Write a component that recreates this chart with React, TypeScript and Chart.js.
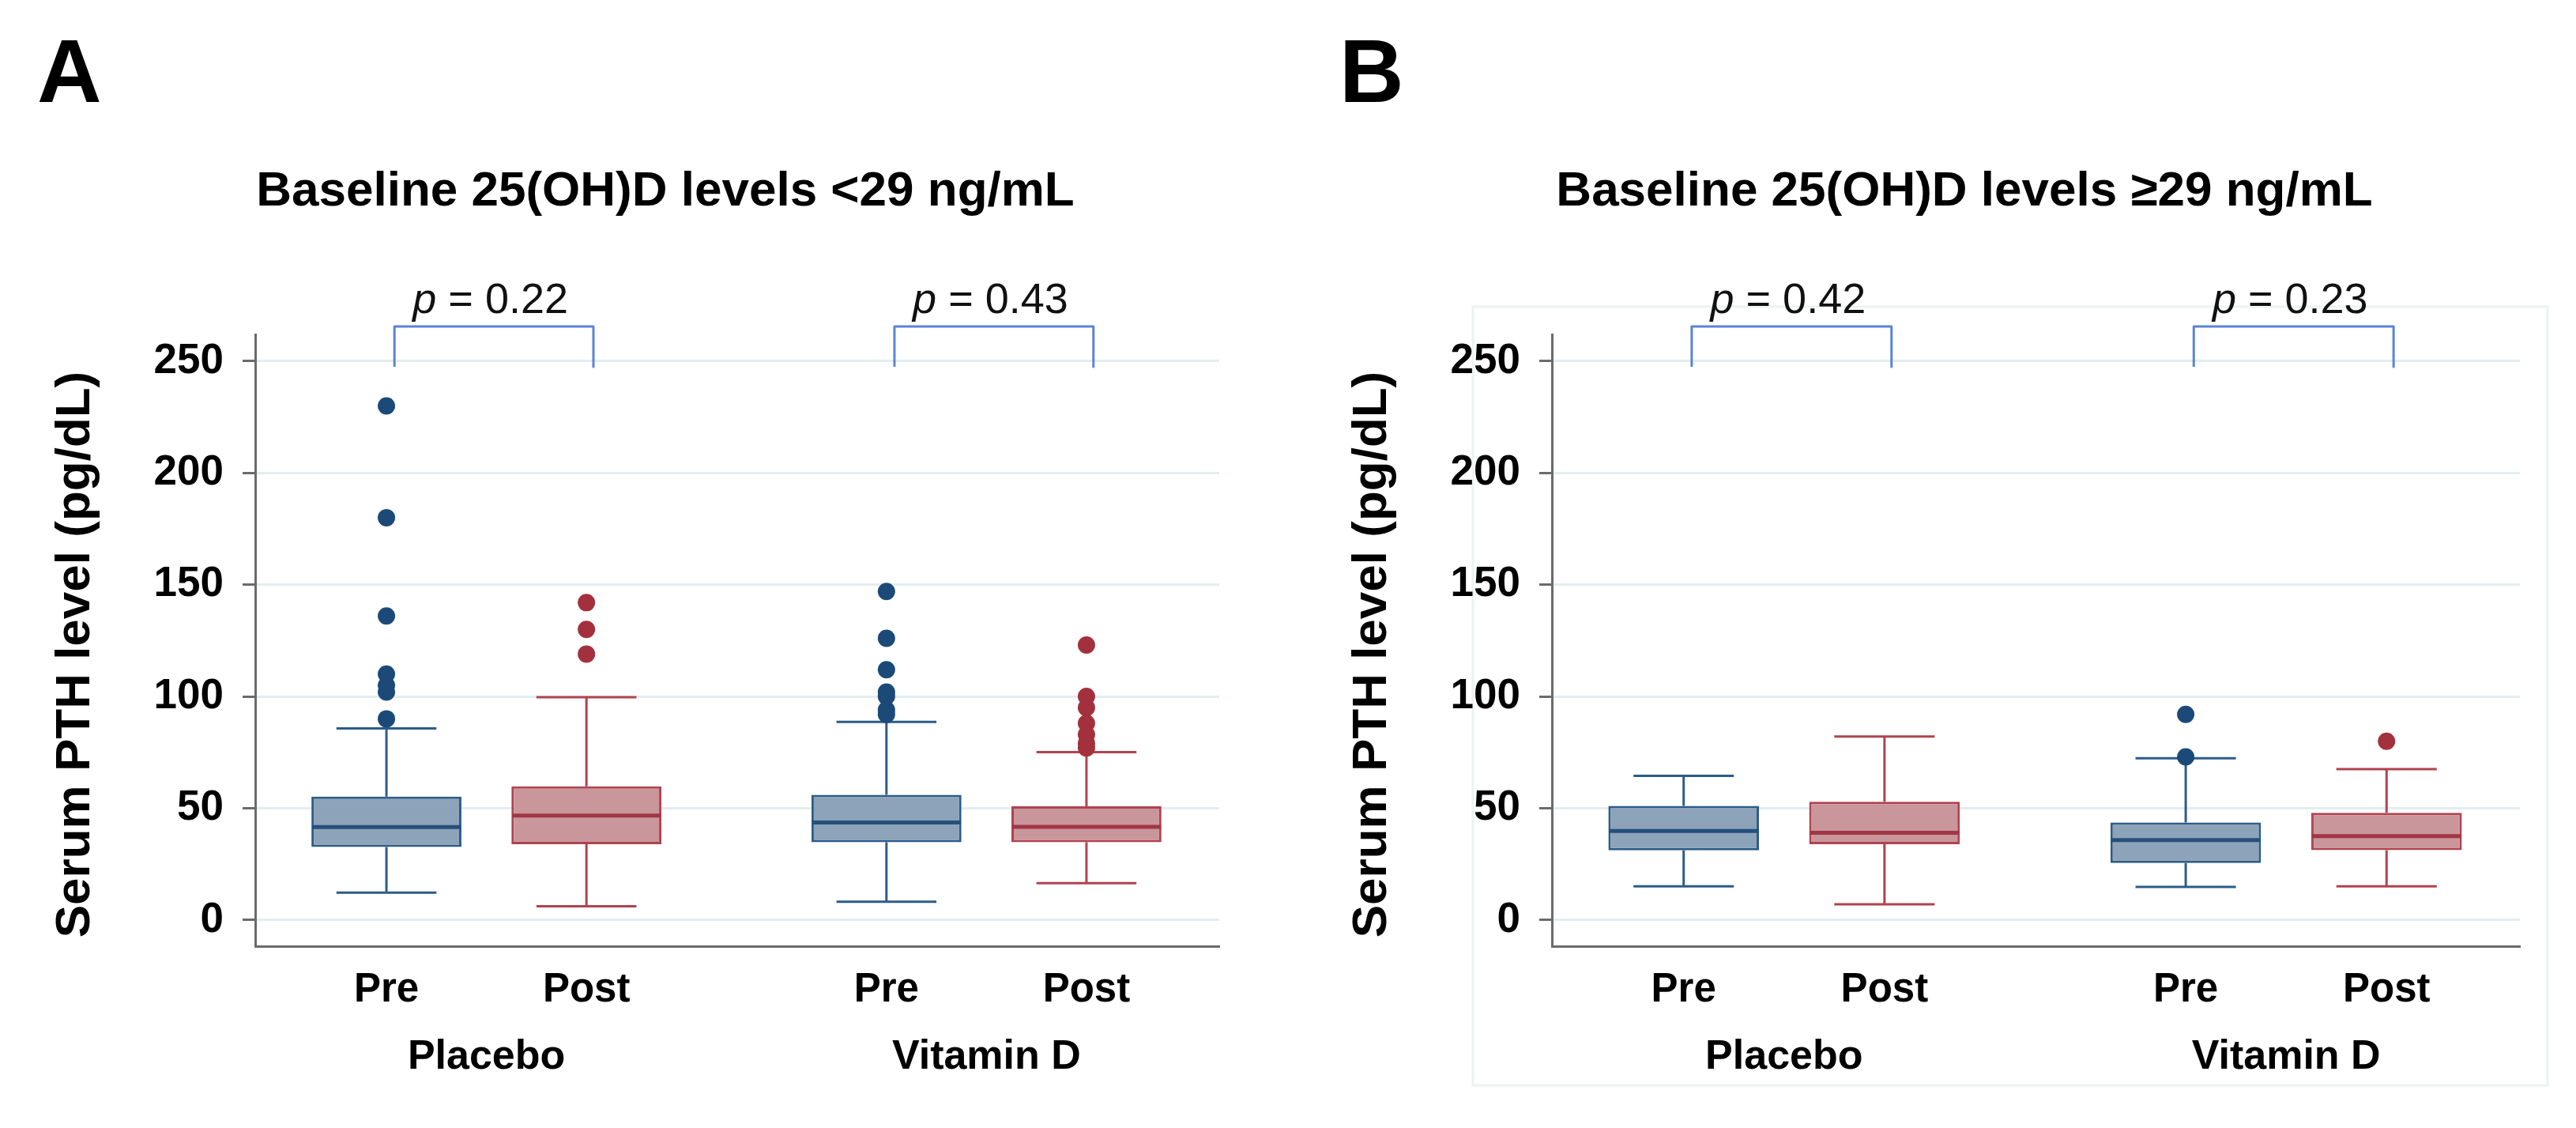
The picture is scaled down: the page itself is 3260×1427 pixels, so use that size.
import React, { useEffect, useRef } from "react";
import { Chart, registerables } from "chart.js";

Chart.register(...registerables);

// ---------- shared categories / ticks ----------
const timeCats = ["Pre", "Post", "Pre", "Post"];
const xPositions = [1, 2, 3.5, 4.5];
const groupCats = ["Placebo", "Vitamin D"];
const groupPositions = [1.5, 4];
const yTicks = [0, 50, 100, 150, 200, 250];
const bracketPairs = [[1, 2], [3.5, 4.5]];

// ---------- panel A: baseline < 29 ng/mL ----------
const aTitle = "Baseline 25(OH)D levels <29 ng/mL";
const aLow = [12.3, 6.2, 8.2, 16.5];
const aQ1 = [32.7, 33.9, 34.8, 34.8];
const aMed = [41.6, 46.7, 43.6, 41.7];
const aQ3 = [55.2, 59.8, 56.0, 50.9];
const aHigh = [85.7, 99.7, 88.6, 75.1];
const aOutPlaceboPre = [230, 180, 136, 110, 105, 102, 90];
const aOutPlaceboPost = [142, 130, 119];
const aOutVitDPre = [147, 126, 112, 102, 100, 94, 92];
const aOutVitDPost = [123, 100, 95, 88, 83, 79, 77];
const aPValues = ["0.22", "0.43"];

// ---------- panel B: baseline >= 29 ng/mL ----------
const bTitle = "Baseline 25(OH)D levels \u226529 ng/mL";
const bLow = [15.1, 7.0, 14.8, 15.1];
const bQ1 = [31.2, 33.9, 25.5, 31.3];
const bMed = [39.8, 39.0, 35.8, 37.5];
const bQ3 = [51.1, 52.9, 43.6, 48.0];
const bHigh = [64.5, 82.1, 72.4, 67.5];
const bOutPlaceboPre: number[] = [];
const bOutPlaceboPost: number[] = [];
const bOutVitDPre = [92, 73];
const bOutVitDPost = [80];
const bPValues = ["0.42", "0.23"];

// ---------- style ----------
const FONT = "'Liberation Sans', Arial, Helvetica, sans-serif";
const BLUE = { line: "#2d5c88", fill: "#8da3b9", med: "#25507c", dot: "#1c4a78" };
const RED = { line: "#b0434f", fill: "#c9969c", med: "#a23744", dot: "#a3313d" };
const BRACKET = "#5b84d6";
const GRID = "#e4edef";
const AXIS = "#6b6b6b";
const X_MIN = 0.344;
const X_MAX = 5.164;
const Y_MIN = -11.7;
const Y_MAX = 262;
const BRACKET_TOP = 265.5;
const BRACKET_BOTTOM = 247.5;
const P_BASE = 271.7;

type PanelProps = {
  letter: string;
  title: string;
  low: number[];
  q1: number[];
  med: number[];
  q3: number[];
  high: number[];
  outliers: number[][];
  pValues: string[];
  left: number;
  width: number;
  padRight: number;
  letterX: number;
  titleX: number;
  frame: boolean;
};

function buildDatasets(p: PanelProps) {
  const ds: any[] = [];
  const colorOf = (i: number) => (i % 2 === 0 ? BLUE : RED);

  // boxes (floating bars from Q1 to Q3)
  ds.push({
    type: "bar",
    xAxisID: "x",
    yAxisID: "y",
    data: xPositions.map((x, i) => ({ x, y: [p.q1[i], p.q3[i]] })),
    backgroundColor: xPositions.map((_, i) => colorOf(i).fill),
    borderColor: xPositions.map((_, i) => colorOf(i).line),
    borderWidth: 3,
    borderSkipped: false,
    categoryPercentage: 1,
    barPercentage: 0.75,
    order: 5,
  });

  xPositions.forEach((c, i) => {
    const col = colorOf(i);
    // whiskers and caps
    ds.push({
      type: "line",
      xAxisID: "x",
      yAxisID: "y",
      data: [
        { x: c, y: p.q3[i] },
        { x: c, y: p.high[i] },
        { x: c, y: null },
        { x: c - 0.25, y: p.high[i] },
        { x: c + 0.25, y: p.high[i] },
        { x: c + 0.25, y: null },
        { x: c, y: p.q1[i] },
        { x: c, y: p.low[i] },
        { x: c, y: null },
        { x: c - 0.25, y: p.low[i] },
        { x: c + 0.25, y: p.low[i] },
      ],
      borderColor: col.line,
      borderWidth: 3,
      pointRadius: 0,
      spanGaps: false,
      fill: false,
      tension: 0,
      order: 4,
    });
    // median
    ds.push({
      type: "line",
      xAxisID: "x",
      yAxisID: "y",
      data: [
        { x: c - 0.372, y: p.med[i] },
        { x: c + 0.372, y: p.med[i] },
      ],
      borderColor: col.med,
      borderWidth: 5,
      pointRadius: 0,
      fill: false,
      order: 3,
    });
    // outliers
    ds.push({
      type: "scatter",
      xAxisID: "x",
      yAxisID: "y",
      data: p.outliers[i].map((v) => ({ x: c, y: v })),
      backgroundColor: col.dot,
      borderColor: col.dot,
      borderWidth: 0,
      pointRadius: 11,
      pointStyle: "circle",
      order: 2,
    });
  });

  // significance brackets
  bracketPairs.forEach(([a, b]) => {
    ds.push({
      type: "line",
      xAxisID: "x",
      yAxisID: "y",
      data: [
        { x: a + 0.04, y: BRACKET_BOTTOM },
        { x: a + 0.04, y: BRACKET_TOP },
        { x: b + 0.035, y: BRACKET_TOP },
        { x: b + 0.035, y: BRACKET_BOTTOM },
      ],
      borderColor: BRACKET,
      borderWidth: 3,
      borderJoinStyle: "round",
      pointRadius: 0,
      fill: false,
      clip: false,
      order: 1,
    });
  });
  return ds;
}

function Panel(p: PanelProps) {
  const ref = useRef<HTMLCanvasElement | null>(null);

  useEffect(() => {
    const canvas = ref.current;
    if (!canvas) return;

    const decor = {
      id: "decor",
      beforeDraw(chart: any) {
        if (!p.frame) return;
        const { ctx, chartArea } = chart;
        ctx.save();
        ctx.strokeStyle = "#eef2f2";
        ctx.lineWidth = 3;
        ctx.strokeRect(
          chartArea.left - 100,
          chartArea.top - 35,
          chartArea.right - chartArea.left + 135,
          chartArea.bottom - chartArea.top + 211
        );
        ctx.restore();
      },
      afterDraw(chart: any) {
        const { ctx, chartArea, scales } = chart;
        ctx.save();
        ctx.fillStyle = "#000";
        // panel letter
        ctx.font = `bold 113px ${FONT}`;
        ctx.textAlign = "left";
        ctx.textBaseline = "alphabetic";
        ctx.fillText(p.letter, p.letterX, 129);
        // title
        ctx.font = `bold 62px ${FONT}`;
        ctx.textAlign = "center";
        ctx.fillText(p.title, p.titleX, 260);
        // y-axis title
        ctx.save();
        ctx.translate(chartArea.left - 210, 828);
        ctx.rotate(-Math.PI / 2);
        ctx.textAlign = "center";
        ctx.font = `bold 62px ${FONT}`;
        ctx.fillText("Serum PTH level (pg/dL)", 0, 0);
        ctx.restore();
        // p-values
        bracketPairs.forEach(([a, b], k) => {
          const cx = scales.x.getPixelForValue((a + b) / 2 + 0.02);
          const by = scales.y.getPixelForValue(P_BASE);
          const pPart = "p";
          const rest = " = " + p.pValues[k];
          ctx.font = `italic 54px ${FONT}`;
          const w1 = ctx.measureText(pPart).width;
          ctx.font = `54px ${FONT}`;
          const w2 = ctx.measureText(rest).width;
          const x0 = cx - (w1 + w2) / 2;
          ctx.textAlign = "left";
          ctx.fillStyle = "#111";
          ctx.font = `italic 54px ${FONT}`;
          ctx.fillText(pPart, x0, by);
          ctx.font = `54px ${FONT}`;
          ctx.fillText(rest, x0 + w1, by);
        });
        ctx.restore();
      },
    };

    const chart = new Chart(canvas, {
      type: "bar",
      data: { datasets: buildDatasets(p) },
      options: {
        responsive: false,
        maintainAspectRatio: false,
        animation: false,
        devicePixelRatio: 1,
        events: [],
        layout: { padding: { top: 423, left: 0, right: p.padRight, bottom: 60 } },
        plugins: {
          legend: { display: false },
          tooltip: { enabled: false },
          title: { display: false },
        },
        scales: {
          x: {
            type: "linear",
            position: "bottom",
            weight: 0,
            min: X_MIN,
            max: X_MAX,
            offset: false,
            afterBuildTicks: (s: any) => {
              s.ticks = xPositions.map((v) => ({ value: v }));
            },
            afterFit: (s: any) => {
              s.height = 85;
            },
            ticks: {
              autoSkip: false,
              maxRotation: 0,
              padding: 25,
              color: "#000",
              font: { family: FONT, size: 51, weight: "bold" },
              callback: (v: any) => timeCats[xPositions.indexOf(Number(v))],
            },
            grid: { display: false, drawTicks: false, offset: false },
            border: { display: true, color: AXIS, width: 3 },
          },
          x2: {
            type: "linear",
            position: "bottom",
            weight: 1,
            min: X_MIN,
            max: X_MAX,
            offset: false,
            afterBuildTicks: (s: any) => {
              s.ticks = groupPositions.map((v) => ({ value: v }));
            },
            afterFit: (s: any) => {
              s.height = 85;
            },
            ticks: {
              autoSkip: false,
              maxRotation: 0,
              padding: 24,
              color: "#000",
              font: { family: FONT, size: 52, weight: "bold" },
              callback: (v: any) => groupCats[groupPositions.indexOf(Number(v))],
            },
            grid: { display: false, drawTicks: false, offset: false },
            border: { display: false },
          },
          y: {
            type: "linear",
            position: "left",
            min: Y_MIN,
            max: Y_MAX,
            afterBuildTicks: (s: any) => {
              s.ticks = yTicks.map((v) => ({ value: v }));
            },
            afterFit: (s: any) => {
              s.width = 323;
            },
            ticks: {
              padding: 24,
              color: "#000",
              font: { family: FONT, size: 53, weight: "bold" },
            },
            grid: {
              color: GRID,
              lineWidth: 3,
              drawTicks: true,
              tickLength: 16,
              tickColor: AXIS,
              tickWidth: 3,
            },
            border: { display: true, color: AXIS, width: 3 },
          },
        },
      } as any,
      plugins: [decor],
    });

    return () => chart.destroy();
  }, []);

  return (
    <canvas
      ref={ref}
      width={p.width}
      height={1427}
      style={{ position: "absolute", left: p.left, top: 0, width: p.width, height: 1427, display: "block" }}
    />
  );
}

export default function App() {
  return (
    <div style={{ position: "absolute", left: 0, top: 0, width: 3260, height: 1427, background: "#fff", overflow: "hidden" }}>
      <Panel
        letter="A"
        title={aTitle}
        low={aLow}
        q1={aQ1}
        med={aMed}
        q3={aQ3}
        high={aHigh}
        outliers={[aOutPlaceboPre, aOutPlaceboPost, aOutVitDPre, aOutVitDPost]}
        pValues={aPValues}
        left={0}
        width={1630}
        padRight={87}
        letterX={47}
        titleX={842}
        frame={false}
      />
      <Panel
        letter="B"
        title={bTitle}
        low={bLow}
        q1={bQ1}
        med={bMed}
        q3={bQ3}
        high={bHigh}
        outliers={[bOutPlaceboPre, bOutPlaceboPost, bOutVitDPre, bOutVitDPost]}
        pValues={bPValues}
        left={1641}
        width={1619}
        padRight={71}
        letterX={54}
        titleX={845}
        frame={true}
      />
    </div>
  );
}
